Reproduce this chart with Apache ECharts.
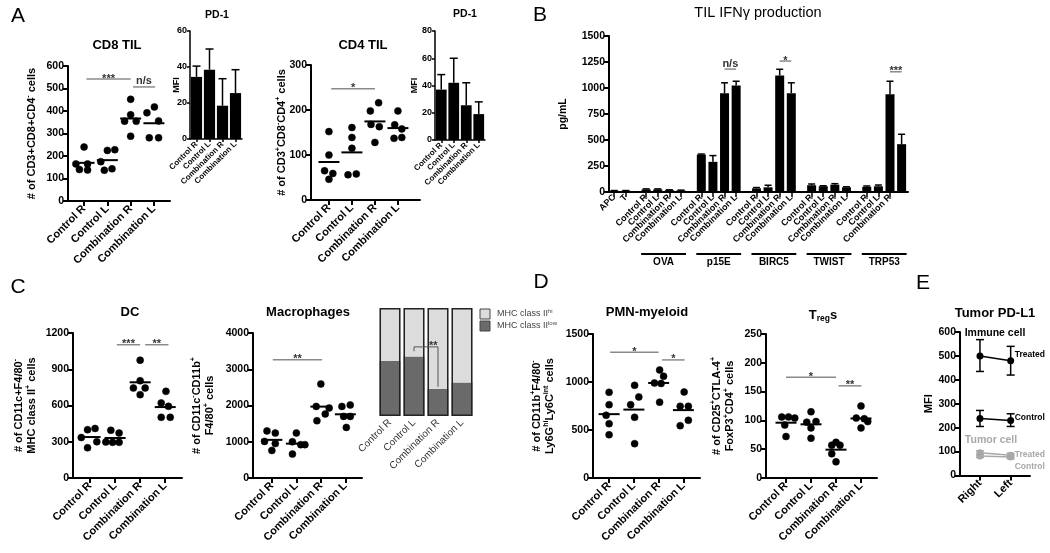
<!DOCTYPE html>
<html><head><meta charset="utf-8">
<script src="https://cdn.jsdelivr.net/npm/echarts@6/dist/echarts.min.js"></script>
<style>html,body{margin:0;padding:0;background:#fff}#c{width:1050px;height:553px}</style>
</head><body><div id="c"></div>
<script>
const FONT = 'Liberation Sans, Arial, sans-serif';
const groups4 = ['Control R','Control L','Combination R','Combination L'];

// ---------- Panel A ----------
const cd8Values = [[240,165,165,140,138],[225,228,175,137,143],[452,383,355,355,288],[418,392,356,281,281]];
const cd8Jitter = [[0,-0.35,0.15,-0.2,0.15],[0,0.32,-0.28,-0.13,0.2],[0,0,-0.26,0.24,0],[0.02,-0.3,0.2,-0.2,0.2]];
const cd8Sig = [[0.1,2,542,'***'],[2.1,3.05,507,'n/s']];
const pd1CD8Mean = [34.5,38.5,18.5,25.5];
const pd1CD8Err = [6,11.5,15,13];
const cd4Values = [[152,100,65,59,46],[161,139,115,56,58],[198,216,168,163,128],[198,167,158,137,139]];
const cd4Jitter = [[0,0,-0.19,0.17,0],[0,0,0,-0.17,0.19],[-0.2,0.16,-0.17,0.19,0],[0,-0.14,0.17,-0.17,0.17]];
const cd4Sig = [[0.1,2,247,'*']];
const pd1CD4Mean = [37,42,25.5,19];
const pd1CD4Err = [11,18,16.5,9];

// ---------- Panel B ----------
const bLead = ['APC','T'];
const bLeadMean = [12,12];
const bLeadErr = [2,2];
const bGroups = ['OVA','p15E','BIRC5','TWIST','TRP53'];
const bMean = [[25,25,18,15],[360,290,950,1025],[35,45,1120,950],[65,55,70,45],[50,55,940,460]];
const bErr = [[5,5,3,3],[5,60,100,40],[8,20,60,100],[12,5,10,5],[8,12,125,95]];
const bSig = [[1,2,3,1182,'n/s'],[2,2,3,1259,'*'],[4,2,3,1156,'***']];

// ---------- Panel C ----------
const dcValues = [[400,410,335,250,300],[395,372,298,295,295],[975,805,745,745,690],[717,621,593,502,502]];
const dcJitter = [[-0.1,0.2,-0.35,-0.1,0.27],[-0.17,0.16,-0.37,-0.1,0.16],[0,0,-0.27,0.2,0],[0.03,-0.16,0.13,-0.16,0.2]];
const dcSig = [[1.07,2,1103,'***'],[2.2,3.13,1103,'**']];
const macValues = [[1300,1240,1010,950,760],[1240,1000,920,920,660],[2593,1975,1931,1766,1581],[1975,2014,1700,1700,1396]];
const macJitter = [[-0.2,0.14,-0.3,0.14,0],[0,-0.16,0.18,0.35,-0.16],[0,-0.19,0.34,0.18,-0.16],[-0.14,0.2,-0.07,0.2,0.04]];
const macSig = [[0.04,2.05,3263,'**']];
const mhcLow = [51,55,25,31];
const mhcBracket = [[1,60],[1,64],[2,64],[2,27]];

// ---------- Panel D ----------
const pmnValues = [[892,764,653,566,451],[965,844,764,632,358],[1125,1060,990,985,790],[896,747,747,601,545]];
const pmnJitter = [[0,0,-0.12,0,0],[0.03,0.2,-0.13,0.03,0.03],[0.04,0.2,-0.17,0.1,0.04],[0.03,-0.13,0.2,0.2,-0.13]];
const pmnSig = [[0.04,2,1310,'*'],[2.14,3.05,1230,'*']];
const tregValues = [[106,106,104,92,72],[115,97,98,87,69],[62,57,57,42,28],[125,104,103,98,87]];
const tregJitter = [[-0.17,0.1,0.35,-0.05,0],[0,-0.17,0.2,0,0],[0,-0.17,0.16,-0.17,0],[0,-0.19,0.13,0.27,0]];
const tregSig = [[0,2,175,'*'],[2.1,3.02,160,'**']];

// ---------- Panel E ----------
const eCats = ['Right','Left'];
const immuneTreated = [500,480];
const immuneTreatedErr = [[435,568],[420,540]];
const immuneControl = [238,230];
const immuneControlErr = [[205,272],[205,258]];
const tumorTreated = [95,85];
const tumorTreatedErr = [[87,103],[77,93]];
const tumorControl = [82,77];
const tumorControlErr = [[76,88],[70,84]];

// ---------- Axis names ----------
const cd8Name = '{b|# of CD3+CD8+CD4}{s|-}{b| cells}';
const cd4Name = '{b|# of CD3}{s|+}{b|CD8}{s|-}{b|CD4}{s|+}{b| cells}';
const dcName = '{b|# of CD11c+F4/80}{s|-}\n{b|MHC class II}{s|+}{b| cells}';
const macName = '{b|# of CD11c}{s|-}{b|CD11b}{s|+}\n{b|F4/80}{s|+}{b| cells}';
const pmnName = '{b|# of CD11b}{s|+}{b|F4/80}{s|-}\n{b|Ly6G}{s|hi}{b|Ly6C}{s|int}{b| cells}';
const tregName = '{b|# of CD25}{s|+}{b|CTLA-4}{s|+}\n{b|FoxP3}{s|+}{b|CD4}{s|+}{b| cells}';

const RICH = {
  b:{fontSize:11,fontWeight:'bold',fontFamily:FONT,color:'#000',lineHeight:13},
  s:{fontSize:7,fontWeight:'bold',fontFamily:FONT,color:'#000',lineHeight:8,verticalAlign:'top'}
};

const grids = [], xAxes = [], yAxes = [], series = [];
const mean = a => a.reduce((s,v)=>s+v,0)/a.length;
const plain = v => String(v);
const DOT = {color:'#000',opacity:1,borderColor:'#000',borderWidth:0.5};

function lineSty(w){ return {show:true,onZero:false,lineStyle:{color:'#000',width:w}}; }

function sigSeries(gi, sig){
  return {type:'custom', xAxisIndex:gi, yAxisIndex:gi, clip:false, silent:true, z:5,
    data: sig.map(s=>[s[0],s[1],s[2]]), encode:{x:[0,1],y:2},
    renderItem(params, api){
      const s = sig[params.dataIndex];
      const p1 = api.coord([api.value(0),api.value(2)]), p2 = api.coord([api.value(1),api.value(2)]);
      const star = s[3].indexOf('*')>=0;
      return {type:'group',children:[
        {type:'line',shape:{x1:p1[0],y1:p1[1],x2:p2[0],y2:p2[1]},style:{stroke:'#8a8a8a',lineWidth:1.5}},
        {type:'text',x:(p1[0]+p2[0])/2,y:p1[1]+(star?5:0),style:{text:s[3],align:'center',verticalAlign:'bottom',textAlign:'center',textVerticalAlign:'bottom',font:'bold 11px '+FONT,fill:'#333'}}
      ]};
    }};
}

function errSeries(gi, data, color, cap, both){
  return {type:'custom', xAxisIndex:gi, yAxisIndex:gi, clip:false, silent:true, z:4, data, encode:{x:0,y:[1,2]},
    renderItem(params, api){
      const x = api.value(0);
      const p0 = api.coord([x,api.value(1)]), p1 = api.coord([x,api.value(2)]);
      const st = {stroke:color,lineWidth:1.5};
      const ch = [{type:'line',shape:{x1:p0[0],y1:p0[1],x2:p1[0],y2:p1[1]},style:st},
        {type:'line',shape:{x1:p1[0]-cap,y1:p1[1],x2:p1[0]+cap,y2:p1[1]},style:st}];
      if (both) ch.push({type:'line',shape:{x1:p0[0]-cap,y1:p0[1],x2:p0[0]+cap,y2:p0[1]},style:st});
      return {type:'group',children:ch};
    }};
}

function addScatter(c){
  const gi = grids.length;
  grids.push({left:c.left, top:c.top, width:c.width, height:c.height});
  xAxes.push({type:'value', gridIndex:gi, min:c.xmin, max:c.xmax, splitLine:{show:false},
    axisLine:lineSty(2),
    axisTick:{show:true,length:5,customValues:[0,1,2,3],lineStyle:{color:'#000',width:2}},
    axisLabel:{customValues:[0,1,2,3], formatter:v=>groups4[Math.round(v)], rotate:45, fontSize:11, fontWeight:'bold', fontFamily:FONT, color:'#000', margin:6}});
  yAxes.push({type:'value', gridIndex:gi, min:0, max:c.ymax, interval:c.yint, splitLine:{show:false},
    axisLine:lineSty(2), axisTick:{show:true,length:5,lineStyle:{color:'#000',width:2}},
    axisLabel:{fontSize:10.5,fontWeight:'bold',fontFamily:FONT,color:'#000',margin:4,formatter:plain},
    name:c.name, nameLocation:'middle', nameGap:c.nameGap, nameRotate:90, nameMoveOverlap:false, nameTextStyle:{rich:RICH}});
  const pts = [];
  c.values.forEach((arr,g)=>arr.forEach((v,i)=>pts.push([g+c.jitter[g][i], v])));
  series.push({type:'scatter', xAxisIndex:gi, yAxisIndex:gi, data:pts, symbol:'circle', symbolSize:7, itemStyle:DOT, emphasis:{disabled:true}, silent:true, z:4});
  series.push({type:'scatter', xAxisIndex:gi, yAxisIndex:gi, data:c.values.map((a,g)=>[g,mean(a)]), symbol:'rect', symbolSize:[21,2], itemStyle:{color:'#000',opacity:1}, emphasis:{disabled:true}, silent:true, z:3});
  series.push(sigSeries(gi, c.sig));
}

function addInset(c){
  const gi = grids.length;
  grids.push({left:c.left, top:c.top, width:c.width, height:c.height});
  xAxes.push({type:'category', gridIndex:gi, data:groups4, axisLine:lineSty(1.5),
    axisTick:{show:true,alignWithLabel:true,length:3,lineStyle:{color:'#000',width:1.5}},
    axisLabel:{rotate:45,fontSize:8,fontWeight:'bold',fontFamily:FONT,color:'#000',margin:4,interval:0}});
  yAxes.push({type:'value', gridIndex:gi, min:0, max:c.ymax, interval:c.yint, splitLine:{show:false},
    axisLine:lineSty(1.5), axisTick:{show:true,length:3,lineStyle:{color:'#000',width:1.5}},
    axisLabel:{fontSize:9,fontWeight:'bold',fontFamily:FONT,color:'#000',margin:3,formatter:plain},
    name:'MFI', nameLocation:'middle', nameGap:c.nameGap, nameRotate:90, nameMoveOverlap:false,
    nameTextStyle:{fontSize:9,fontWeight:'bold',fontFamily:FONT,color:'#000'}});
  series.push({type:'bar', xAxisIndex:gi, yAxisIndex:gi, data:c.mean, barWidth:'86%', itemStyle:{color:'#000'}, silent:true});
  series.push(errSeries(gi, c.mean.map((m,i)=>[i,m,m+c.err[i]]), '#000', 4, false));
}

// Panel A
addScatter({left:68,top:66,width:102,height:135,xmin:-0.69,xmax:3.69,ymax:600,yint:100,values:cd8Values,jitter:cd8Jitter,sig:cd8Sig,name:cd8Name,nameGap:30});
addInset({left:190,top:31,width:52,height:108,ymax:60,yint:20,mean:pd1CD8Mean,err:pd1CD8Err,nameGap:9});
addScatter({left:311,top:65,width:109,height:135,xmin:-0.78,xmax:3.96,ymax:300,yint:100,values:cd4Values,jitter:cd4Jitter,sig:cd4Sig,name:cd4Name,nameGap:23});
addInset({left:435,top:31,width:50,height:109,ymax:80,yint:20,mean:pd1CD4Mean,err:pd1CD4Err,nameGap:16});

// Panel B
const GAP = 1.75;
const bPos = (g,m)=> bLead.length - 1 + GAP + g*(3+GAP) + m;
(function(){
  const gi = grids.length;
  grids.push({left:609, top:36, width:299, height:156});
  const pos = [], labels = {}, bars = [], errs = [];
  bLead.forEach((n,i)=>{ pos.push(i); labels[i.toFixed(2)] = n; bars.push([i,bLeadMean[i]]); errs.push([i,bLeadMean[i],bLeadMean[i]+bLeadErr[i]]); });
  bGroups.forEach((gname,g)=>groups4.forEach((n,m)=>{ const p = bPos(g,m); pos.push(p); labels[p.toFixed(2)] = n; bars.push([p,bMean[g][m]]); errs.push([p,bMean[g][m],bMean[g][m]+bErr[g][m]]); }));
  xAxes.push({type:'value', gridIndex:gi, min:-0.45, max:25.3, splitLine:{show:false}, axisLine:lineSty(2),
    axisTick:{show:true,length:5,customValues:pos,lineStyle:{color:'#000',width:1.5}},
    axisLabel:{customValues:pos, formatter:v=>labels[v.toFixed(2)]||'', rotate:45, fontSize:9, fontWeight:'bold', fontFamily:FONT, color:'#000', margin:4}});
  yAxes.push({type:'value', gridIndex:gi, min:0, max:1500, interval:250, splitLine:{show:false},
    axisLine:lineSty(2), axisTick:{show:true,length:5,lineStyle:{color:'#000',width:2}},
    axisLabel:{fontSize:10.5,fontWeight:'bold',fontFamily:FONT,color:'#000',margin:4,formatter:plain},
    name:'pg/mL', nameLocation:'middle', nameGap:40, nameRotate:90, nameMoveOverlap:false, nameTextStyle:{fontSize:10.5,fontWeight:'bold',fontFamily:FONT,color:'#000'}});
  series.push({type:'bar', xAxisIndex:gi, yAxisIndex:gi, data:bars, barWidth:9, itemStyle:{color:'#000'}, silent:true});
  series.push(errSeries(gi, errs, '#000', 3.5, false));
  series.push(sigSeries(gi, bSig.map(s=>[bPos(s[0],s[1]), bPos(s[0],s[2]), s[3], s[4]])));
  series.push({type:'custom', xAxisIndex:gi, yAxisIndex:gi, clip:false, silent:true,
    data: bGroups.map((n,g)=>[bPos(g,0), bPos(g,3), 0]), encode:{x:[0,1],y:2},
    renderItem(params, api){
      const a = api.coord([api.value(0),0]), b = api.coord([api.value(1),0]);
      const y = a[1] + 62;
      return {type:'group',children:[
        {type:'line',shape:{x1:a[0]-5,y1:y,x2:b[0]+5,y2:y},style:{stroke:'#000',lineWidth:2}},
        {type:'text',x:(a[0]+b[0])/2,y:y+8,style:{text:bGroups[params.dataIndex],align:'center',verticalAlign:'middle',textAlign:'center',textVerticalAlign:'middle',font:'bold 10px '+FONT,fill:'#000'}}
      ]};
    }});
})();

// Panel C
addScatter({left:73,top:333,width:109,height:145,xmin:-0.68,xmax:3.67,ymax:1200,yint:300,values:dcValues,jitter:dcJitter,sig:dcSig,name:dcName,nameGap:35});
addScatter({left:253,top:333,width:109,height:145,xmin:-0.77,xmax:3.68,ymax:4000,yint:1000,values:macValues,jitter:macJitter,sig:macSig,name:macName,nameGap:37});
(function(){
  const gi = grids.length;
  grids.push({left:378, top:308, width:96, height:108});
  xAxes.push({type:'category', gridIndex:gi, data:groups4, axisLine:{show:false}, axisTick:{show:false},
    axisLabel:{rotate:45,fontSize:10,fontFamily:FONT,color:'#333',margin:5,interval:0}});
  yAxes.push({type:'value', gridIndex:gi, min:0, max:100, show:false});
  series.push({type:'bar', xAxisIndex:gi, yAxisIndex:gi, stack:'mhc', data:mhcLow, barWidth:21, barGap:'-100%', itemStyle:{color:'#6a6a6a'}, silent:true});
  series.push({type:'bar', xAxisIndex:gi, yAxisIndex:gi, stack:'mhc', data:mhcLow.map(v=>100-v), barWidth:21, barGap:'-100%', itemStyle:{color:'#dcdcdc'}, silent:true});
  series.push({type:'bar', xAxisIndex:gi, yAxisIndex:gi, data:mhcLow.map(()=>100), barWidth:21, barGap:'-100%', itemStyle:{color:'rgba(0,0,0,0)',borderColor:'#222',borderWidth:1.5}, silent:true, z:3});
  series.push({type:'custom', xAxisIndex:gi, yAxisIndex:gi, clip:false, silent:true, z:5, data:[[1,2,64]], encode:{x:[0,1],y:2},
    renderItem(params, api){
      const pts = mhcBracket.map(p=>api.coord(p));
      return {type:'group',children:[
        {type:'polyline',shape:{points:pts},style:{stroke:'#555',fill:null,lineWidth:1}},
        {type:'text',x:pts[1][0]+0.8*(pts[2][0]-pts[1][0]),y:pts[1][1]+5,style:{text:'**',align:'center',verticalAlign:'bottom',textAlign:'center',textVerticalAlign:'bottom',font:'bold 11px '+FONT,fill:'#333'}}
      ]};
    }});
})();

// Panel D
addScatter({left:593,top:334,width:107,height:144,xmin:-0.65,xmax:3.67,ymax:1500,yint:500,values:pmnValues,jitter:pmnJitter,sig:pmnSig,name:pmnName,nameGap:37});
addScatter({left:766,top:334,width:111,height:144,xmin:-0.8,xmax:3.64,ymax:250,yint:50,values:tregValues,jitter:tregJitter,sig:tregSig,name:tregName,nameGap:30});

// Panel E
(function(){
  const gi = grids.length;
  grids.push({left:960, top:332, width:70, height:143.5});
  xAxes.push({type:'value', gridIndex:gi, min:-0.65, max:1.63, splitLine:{show:false}, axisLine:lineSty(2),
    axisTick:{show:true,length:5,customValues:[0,1],lineStyle:{color:'#000',width:2}},
    axisLabel:{customValues:[0,1], formatter:v=>eCats[Math.round(v)], rotate:45, fontSize:11, fontWeight:'bold', fontFamily:FONT, color:'#000', margin:6}});
  yAxes.push({type:'value', gridIndex:gi, min:0, max:600, interval:100, splitLine:{show:false},
    axisLine:lineSty(2), axisTick:{show:true,length:5,lineStyle:{color:'#000',width:2}},
    axisLabel:{fontSize:10.5,fontWeight:'bold',fontFamily:FONT,color:'#000',margin:4,formatter:plain},
    name:'MFI', nameLocation:'middle', nameGap:26, nameRotate:90, nameMoveOverlap:false, nameTextStyle:{fontSize:11,fontWeight:'bold',fontFamily:FONT,color:'#000'}});
  const defs = [
    [immuneTreated, immuneTreatedErr, '#000', 'Treated', [0,-6]],
    [immuneControl, immuneControlErr, '#000', 'Control', [0,-3]],
    [tumorTreated, tumorTreatedErr, '#a8a8a8', 'Treated', [0,-1]],
    [tumorControl, tumorControlErr, '#a8a8a8', 'Control', [0,10]]
  ];
  defs.forEach(d=>{
    series.push({type:'line', xAxisIndex:gi, yAxisIndex:gi, data:d[0].map((v,i)=>[i,v]), symbol:'circle', symbolSize:7,
      lineStyle:{color:d[2],width:1.5}, itemStyle:{color:d[2],opacity:1}, silent:true,
      endLabel:{show:true, formatter:d[3], distance:4, offset:d[4], fontSize:8.5, fontWeight:'bold', fontFamily:FONT, color:d[2]}});
    series.push(errSeries(gi, d[1].map((e,i)=>[i,e[0],e[1]]), d[2], 4, true));
  });
})();

function txt(x,y,text,font,fill){
  return {type:'text', x, y, silent:true, style:{text, font, fill:fill||'#000', textAlign:'center', textVerticalAlign:'middle', align:'center', verticalAlign:'middle'}};
}
const graphics = [
  txt(18,16,'A','21px '+FONT), txt(540,15,'B','21px '+FONT), txt(18,287,'C','21px '+FONT), txt(541,282,'D','21px '+FONT), txt(923,283,'E','21px '+FONT),
  txt(117,45,'CD8 TIL','bold 13px '+FONT), txt(217,15,'PD-1','bold 10.5px '+FONT),
  txt(363,45,'CD4 TIL','bold 13px '+FONT), txt(465,14,'PD-1','bold 10.5px '+FONT),
  txt(758,13,'TIL IFNγ production','14.5px '+FONT),
  txt(130,312,'DC','bold 13px '+FONT), txt(308,312,'Macrophages','bold 13px '+FONT),
  txt(647,312,'PMN-myeloid','bold 13px '+FONT), txt(995,313,'Tumor PD-L1','bold 13px '+FONT),
  {type:'text', x:823, y:315, silent:true, style:{text:'{a|T}{r|reg}{a|s}', textAlign:'center', textVerticalAlign:'middle', align:'center', verticalAlign:'middle',
    rich:{a:{fontSize:13,fontWeight:'bold',fontFamily:FONT,fill:'#000',lineHeight:16}, r:{fontSize:8.5,fontWeight:'bold',fontFamily:FONT,fill:'#000',lineHeight:8,verticalAlign:'bottom'}}}},
  txt(995,333,'Immune cell','bold 10.5px '+FONT),
  txt(991,440,'Tumor cell','bold 10.5px '+FONT,'#a8a8a8'),
  {type:'rect', shape:{x:480,y:309,width:10,height:10}, style:{fill:'#dcdcdc',stroke:'#444',lineWidth:1}, silent:true},
  {type:'rect', shape:{x:480,y:321,width:10,height:10}, style:{fill:'#6a6a6a',stroke:'#444',lineWidth:1}, silent:true},
  {type:'text', x:497, y:314, silent:true, style:{text:'{t|MHC class II}{s|hi}', textAlign:'left', textVerticalAlign:'middle', align:'left', verticalAlign:'middle',
    rich:{t:{fontSize:9,fontFamily:FONT,fill:'#444',lineHeight:11}, s:{fontSize:6,fontFamily:FONT,fill:'#444',lineHeight:6,verticalAlign:'top'}}}},
  {type:'text', x:497, y:326, silent:true, style:{text:'{t|MHC class II}{s|low}', textAlign:'left', textVerticalAlign:'middle', align:'left', verticalAlign:'middle',
    rich:{t:{fontSize:9,fontFamily:FONT,fill:'#444',lineHeight:11}, s:{fontSize:6,fontFamily:FONT,fill:'#444',lineHeight:6,verticalAlign:'top'}}}}
];

const chart = echarts.init(document.getElementById('c'));
chart.setOption({
  animation:false, backgroundColor:'#fff',
  textStyle:{fontFamily:FONT},
  grid:grids, xAxis:xAxes, yAxis:yAxes, series, graphic:graphics
});
</script></body></html>
